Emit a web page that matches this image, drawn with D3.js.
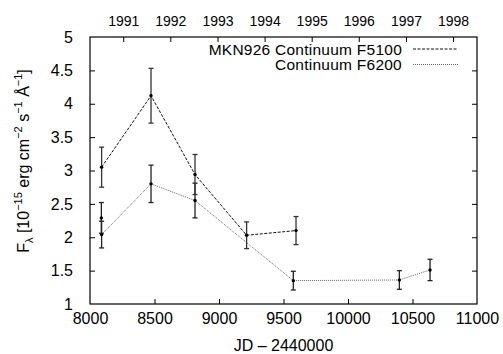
<!DOCTYPE html>
<html>
<head>
<meta charset="utf-8">
<script src="https://cdn.jsdelivr.net/npm/d3@7"></script>
<style>
  body { margin: 0; background: #fff; }
  text { font-family: "Liberation Sans", Arial, sans-serif; fill: #000; }
</style>
</head>
<body>
<div id="chart"></div>
<script>
// data
var f5100JD = [8090, 8473, 8814, 9214, 9597];
var f5100Flux = [3.05, 4.12, 2.94, 2.03, 2.10];
var f5100Err = [0.30, 0.41, 0.30, 0.20, 0.21];

var f6200JD = [8088, 8090, 8473, 8814, 9576, 10398, 10636];
var f6200Flux = [2.29, 2.04, 2.80, 2.55, 1.35, 1.36, 1.51];
var f6200Err = [0.23, 0.20, 0.28, 0.26, 0.14, 0.14, 0.16];

var xTicks = [8000, 8500, 9000, 9500, 10000, 10500, 11000];
var yTicks = [1, 1.5, 2, 2.5, 3, 3.5, 4, 4.5, 5];
var yearLabels = ["1991", "1992", "1993", "1994", "1995", "1996", "1997", "1998"];
// JD - 2440000 at 1 Jan of each year
var yearJD = [8257.5, 8622.5, 8988.5, 9353.5, 9718.5, 10083.5, 10449.5, 10814.5];

var legendNames = ["MKN926 Continuum F5100", "Continuum F6200"];

var W = 503, H = 354;
var margin = { top: 37, right: 26, bottom: 50, left: 90 };
var width = W - margin.left - margin.right;
var height = H - margin.top - margin.bottom;

var svg = d3.select("#chart").append("svg")
  .attr("width", W)
  .attr("height", H);

var g = svg.append("g")
  .attr("transform", "translate(" + margin.left + "," + margin.top + ")");

var x = d3.scaleLinear().domain([8000, 11000]).range([0, width]);
var y = d3.scaleLinear().domain([1, 5]).range([height, 0]);

var fs = 16;

// axes, ticks point inwards like gnuplot
var xAxis = g.append("g")
  .attr("transform", "translate(0," + height + ")")
  .call(d3.axisBottom(x).tickValues(xTicks).tickSize(-5).tickPadding(9).tickFormat(d3.format("d")));

var yAxis = g.append("g")
  .call(d3.axisLeft(y).tickValues(yTicks).tickSize(-5).tickPadding(17).tickFormat(function (d) { return d; }));

var yAxisR = g.append("g")
  .attr("transform", "translate(" + width + ",0)")
  .call(d3.axisRight(y).tickValues(yTicks).tickSize(-5).tickFormat(""));

var x2 = g.append("g")
  .call(d3.axisTop(x).tickValues(yearJD).tickSize(-5).tickPadding(11)
    .tickFormat(function (d, i) { return yearLabels[i]; }));

[xAxis, yAxis, yAxisR, x2].forEach(function (a) {
  a.select(".domain").remove();
  a.selectAll("line").attr("stroke", "#000");
  a.selectAll("text").style("font-size", fs + "px").attr("font-family", null);
});
// year labels a little smaller
x2.selectAll("text").style("font-size", "14px");

// no tick at the ends of the frame
xAxis.selectAll(".tick").filter(function (d) { return d == 8000 || d == 11000; }).select("line").remove();
yAxis.selectAll(".tick").filter(function (d) { return d == 1 || d == 5; }).select("line").remove();
yAxisR.selectAll(".tick").filter(function (d) { return d == 1 || d == 5; }).select("line").remove();

// frame
g.append("rect")
  .attr("width", width)
  .attr("height", height)
  .attr("fill", "none")
  .attr("stroke", "#000")
  .attr("stroke-width", 1.2);

// axis labels
svg.append("text")
  .attr("x", margin.left + width / 2)
  .attr("y", H - 3)
  .attr("text-anchor", "middle")
  .style("font-size", fs + "px")
  .text("JD \u2013 2440000");

var ylab = svg.append("text")
  .attr("transform", "translate(29," + 161 + ") rotate(-90)")
  .attr("text-anchor", "middle")
  .style("font-size", fs + "px");
ylab.append("tspan").text("F");
ylab.append("tspan").attr("dy", 4).style("font-size", "11px").text("\u03bb");
ylab.append("tspan").attr("dy", -4).text(" [10");
ylab.append("tspan").attr("dy", -7).style("font-size", "11px").text("\u221215");
ylab.append("tspan").attr("dy", 7).text(" erg cm");
ylab.append("tspan").attr("dy", -7).style("font-size", "11px").text("\u22122");
ylab.append("tspan").attr("dy", 7).text(" s");
ylab.append("tspan").attr("dy", -7).style("font-size", "11px").text("\u22121");
ylab.append("tspan").attr("dy", 7).text(" \u00c5");
ylab.append("tspan").attr("dy", -7).style("font-size", "11px").text("\u22121");
ylab.append("tspan").attr("dy", 7).text("]");

// series
function drawSeries(jd, flux, err, dash, color, errColor) {
  var pts = jd.map(function (d, i) { return { jd: d, f: flux[i], e: err[i] }; });

  var line = d3.line()
    .x(function (d) { return x(d.jd); })
    .y(function (d) { return y(d.f); });

  g.append("path")
    .datum(pts)
    .attr("d", line)
    .attr("fill", "none")
    .attr("stroke", color)
    .attr("stroke-width", 1)
    .attr("stroke-dasharray", dash);

  var eb = g.selectAll(null).data(pts).enter().append("g")
    .attr("stroke", errColor)
    .attr("stroke-width", 1.3);
  eb.append("line")
    .attr("x1", function (d) { return x(d.jd); })
    .attr("x2", function (d) { return x(d.jd); })
    .attr("y1", function (d) { return y(d.f + d.e); })
    .attr("y2", function (d) { return y(d.f - d.e); });
  eb.append("line")
    .attr("x1", function (d) { return x(d.jd) - 2.5; })
    .attr("x2", function (d) { return x(d.jd) + 2.5; })
    .attr("y1", function (d) { return y(d.f + d.e); })
    .attr("y2", function (d) { return y(d.f + d.e); });
  eb.append("line")
    .attr("x1", function (d) { return x(d.jd) - 2.5; })
    .attr("x2", function (d) { return x(d.jd) + 2.5; })
    .attr("y1", function (d) { return y(d.f - d.e); })
    .attr("y2", function (d) { return y(d.f - d.e); });

  g.selectAll(null).data(pts).enter().append("circle")
    .attr("cx", function (d) { return x(d.jd); })
    .attr("cy", function (d) { return y(d.f); })
    .attr("r", 1.7)
    .attr("fill", "#000");
}

drawSeries(f6200JD, f6200Flux, f6200Err, "1,1", "#666", "#222");
drawSeries(f5100JD, f5100Flux, f5100Err, "3,1.5", "#111", "#333");

// legend
var legDash = ["3,1.5", "1,1"];
var legColor = ["#111", "#666"];
legendNames.forEach(function (name, i) {
  var ly = 49 + i * 15.5;
  svg.append("text")
    .attr("x", 402)
    .attr("y", ly + 5.6)
    .attr("text-anchor", "end")
    .style("font-size", "15.5px")
    .style("letter-spacing", "0.25px")
    .text(name);
  svg.append("line")
    .attr("x1", 413).attr("x2", 458)
    .attr("y1", ly).attr("y2", ly)
    .attr("stroke", legColor[i])
    .attr("stroke-width", 1)
    .attr("stroke-dasharray", legDash[i]);
});
</script>
</body>
</html>
